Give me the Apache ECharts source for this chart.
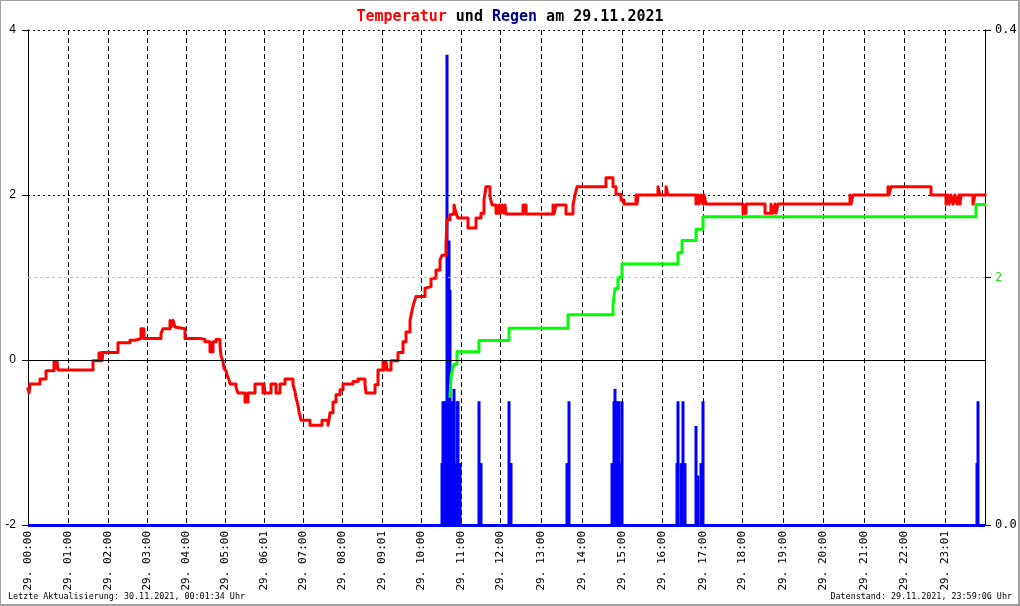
<!DOCTYPE html>
<html><head><meta charset="utf-8">
<script src="https://cdn.jsdelivr.net/npm/echarts@6/dist/echarts.min.js"></script>
<style>html,body{margin:0;padding:0;background:#fff}#c{width:1020px;height:606px}</style>
</head><body><div id="c"></div>
<script>
// x unit: sample index (0..957 over the day)
const tickIdx = [0,40,80,119,158,197,236,275,314,354,393,433,472,513,554,594,634,675,714,755,795,836,876,917];
const tickLabels = ['29. 00:00','29. 01:00','29. 02:00','29. 03:00','29. 04:00','29. 05:00','29. 06:01','29. 07:00','29. 08:00','29. 09:01','29. 10:00','29. 11:00','29. 12:00','29. 13:00','29. 14:00','29. 15:00','29. 16:00','29. 17:00','29. 18:00','29. 19:00','29. 20:00','29. 21:00','29. 22:00','29. 23:01'];
const xMax = 957;

// temperature (°C), step values starting at each sample index
const tempIdx = [0,1,2,12,18,26,27,29,30,65,71,72,73,74,75,90,102,107,113,116,133,135,142,143,145,147,148,157,172,177,182,185,188,192,193,195,196,198,199,201,202,208,210,217,220,227,235,236,237,243,248,252,257,265,267,268,270,271,273,282,294,300,301,302,305,308,312,315,325,330,337,338,347,350,355,356,358,359,363,370,375,378,382,384,386,387,388,397,398,403,408,412,414,418,419,422,424,426,428,430,440,448,453,456,458,462,464,468,471,473,474,476,477,478,495,498,525,526,528,538,545,547,549,578,585,588,593,596,608,609,610,630,632,638,640,668,670,671,673,675,676,678,715,718,737,743,745,747,748,750,822,823,825,860,861,863,903,918,920,921,923,925,927,929,931,932,933,945,947,957];
const tempVal = [-0.35,-0.40,-0.29,-0.23,-0.13,-0.02,-0.10,-0.02,-0.12,-0.01,0.085,-0.01,0.09,-0.01,0.09,0.21,0.24,0.26,0.38,0.26,0.32,0.38,0.48,0.40,0.48,0.40,0.38,0.26,0.25,0.22,0.10,0.22,0.25,0.17,0.05,-0.02,-0.10,-0.13,-0.18,-0.24,-0.29,-0.33,-0.40,-0.51,-0.40,-0.29,-0.40,-0.29,-0.40,-0.29,-0.40,-0.29,-0.23,-0.30,-0.38,-0.46,-0.55,-0.63,-0.73,-0.79,-0.73,-0.79,-0.73,-0.64,-0.51,-0.42,-0.36,-0.29,-0.26,-0.23,-0.30,-0.40,-0.30,-0.12,-0.02,-0.12,-0.02,-0.12,-0.01,0.09,0.22,0.34,0.48,0.60,0.70,0.73,0.77,0.87,0.89,0.99,1.09,1.21,1.27,1.40,1.70,1.76,1.77,1.88,1.78,1.72,1.60,1.72,1.78,1.94,2.10,1.98,1.88,1.78,1.88,1.78,1.88,1.78,1.88,1.77,1.88,1.77,1.88,1.77,1.88,1.77,1.88,2.00,2.10,2.21,2.10,2.01,1.94,1.89,2.00,1.89,2.00,2.10,2.00,2.10,2.00,1.89,2.00,1.89,2.00,1.89,2.00,1.89,1.78,1.89,1.78,1.89,1.78,1.89,1.78,1.89,2.00,1.89,2.00,2.10,2.00,2.10,2.00,1.89,2.00,1.89,2.00,1.89,2.00,1.89,2.00,1.89,2.00,1.89,2.00,2.00];

// accumulated rain (mm)
const sumIdx = [422,423,424,426,429,451,481,540,585,587,590,594,650,654,668,675,948,957];
const sumVal = [1.04,1.19,1.24,1.30,1.40,1.49,1.59,1.70,1.78,1.91,2.00,2.11,2.20,2.30,2.39,2.49,2.59,2.59];

// rain per interval (mm)
const rainIdx = [414,415,417,419,421,422,424,426,427,429,430,432,451,453,481,483,539,541,584,586,587,589,591,592,594,649,650,653,655,657,668,670,673,675,949,950];
const rainVal = [0.05,0.10,0.10,0.38,0.23,0.19,0.10,0.11,0.05,0.10,0.10,0.05,0.10,0.05,0.10,0.05,0.05,0.10,0.05,0.10,0.11,0.10,0.10,0.05,0.10,0.05,0.10,0.05,0.10,0.05,0.08,0.04,0.05,0.10,0.05,0.10];

const mono = 'DejaVu Sans Mono';
const zip = (a, b) => a.map((v, i) => [v, b[i]]);
const noLabel = {show: false};

const chart = echarts.init(document.getElementById('c'), null, {renderer: 'canvas'});
chart.setOption({
  animation: false,
  backgroundColor: '#ffffff',
  title: {
    text: '{r|Temperatur} {k|und} {b|Regen} {k|am 29.11.2021}',
    left: 'center', top: 5,
    textStyle: {
      fontFamily: mono, fontSize: 15, fontWeight: 'bold', color: '#000',
      rich: {
        r: {color: '#ff0000', fontFamily: mono, fontSize: 15, fontWeight: 'bold'},
        k: {color: '#000000', fontFamily: mono, fontSize: 15, fontWeight: 'bold'},
        b: {color: '#00008b', fontFamily: mono, fontSize: 15, fontWeight: 'bold'}
      }
    }
  },
  grid: {left: 28, right: 35, top: 30, bottom: 81, outerBoundsMode: 'none'},
  xAxis: {
    type: 'value', min: 0, max: xMax,
    axisLine: {show: false},
    axisTick: {show: false, customValues: tickIdx},
    axisLabel: {
      customValues: tickIdx, rotate: 90, margin: 6,
      fontFamily: mono, fontSize: 11, color: '#000',
      formatter: v => { const i = tickIdx.indexOf(v); return i >= 0 ? tickLabels[i] : ''; }
    },
    splitLine: {show: true, lineStyle: {color: '#000', width: 1, type: [5, 3]}}
  },
  yAxis: [
    {
      type: 'value', min: -2, max: 4, interval: 2, position: 'left',
      axisLine: {show: true, onZero: false, lineStyle: {color: '#000', width: 1}},
      axisTick: {show: true, length: 6, lineStyle: {color: '#000'}},
      axisLabel: {margin: 12, fontFamily: 'Liberation Sans', fontSize: 12, color: '#000'},
      splitLine: {show: true, lineStyle: {color: '#000', width: 1, type: [2, 3]}}
    },
    {
      type: 'value', min: 0, max: 0.4, interval: 0.4, position: 'right',
      axisLine: {show: true, onZero: false, lineStyle: {color: '#000', width: 1}},
      axisTick: {show: true, length: 6, lineStyle: {color: '#000'}},
      axisLabel: {margin: 10, fontFamily: mono, fontSize: 12, color: '#000', formatter: v => v.toFixed(1)},
      splitLine: {show: false}
    },
    {
      type: 'value', min: 0, max: 4, interval: 2, position: 'right',
      axisLine: {show: false, onZero: false},
      axisTick: {show: true, length: 6, lineStyle: {color: '#000'}},
      axisLabel: {margin: 10, fontFamily: mono, fontSize: 12, color: '#22dd22', formatter: v => v === 2 ? '2' : ''},
      splitLine: {show: false}
    }
  ],
  series: [
    {
      name: 'Regen', type: 'bar', xAxisIndex: 0, yAxisIndex: 1,
      data: zip(rainIdx, rainVal), barWidth: 3, barGap: '-100%',
      itemStyle: {color: '#0000ff'}, silent: true,
      markLine: {
        symbol: 'none', silent: true, label: noLabel, animation: false,
        data: [
          {yAxis: 0, lineStyle: {color: '#0000ff', width: 3, type: 'solid'}},
          {yAxis: 0, lineStyle: {color: '#000000', width: 1, type: [2, 3]}}
        ]
      }
    },
    {
      name: 'Regensumme', type: 'line', xAxisIndex: 0, yAxisIndex: 2, step: 'end',
      data: zip(sumIdx, sumVal), showSymbol: false, silent: true,
      lineStyle: {color: '#00ff00', width: 3, cap: 'square', join: 'round'},
      markLine: {
        symbol: 'none', silent: true, label: noLabel, animation: false,
        data: [{yAxis: 2, lineStyle: {color: '#c0c0c0', width: 1, type: [3, 3]}}]
      }
    },
    {
      name: 'Temperatur', type: 'line', xAxisIndex: 0, yAxisIndex: 0, step: 'end',
      data: zip(tempIdx, tempVal), showSymbol: false, silent: true,
      lineStyle: {color: '#ff0000', width: 3, cap: 'square', join: 'round'},
      markLine: {
        symbol: 'none', silent: true, label: noLabel, animation: false,
        data: [{yAxis: 0, lineStyle: {color: '#000000', width: 1, type: 'solid'}}]
      }
    }
  ],
  graphic: [
    {type: 'rect', shape: {x: 0, y: 0, width: 1019, height: 605}, style: {fill: 'none', stroke: '#a0a0a0', lineWidth: 2}, silent: true},
    {type: 'text', left: 8, top: 593, style: {text: 'Letzte Aktualisierung: 30.11.2021, 00:01:34 Uhr', fontFamily: mono, fontSize: 8.4, fill: '#000'}},
    {type: 'text', right: 8, top: 593, style: {text: 'Datenstand: 29.11.2021, 23:59:06 Uhr', fontFamily: mono, fontSize: 8.4, fill: '#000'}}
  ]
});
</script>
</body></html>
